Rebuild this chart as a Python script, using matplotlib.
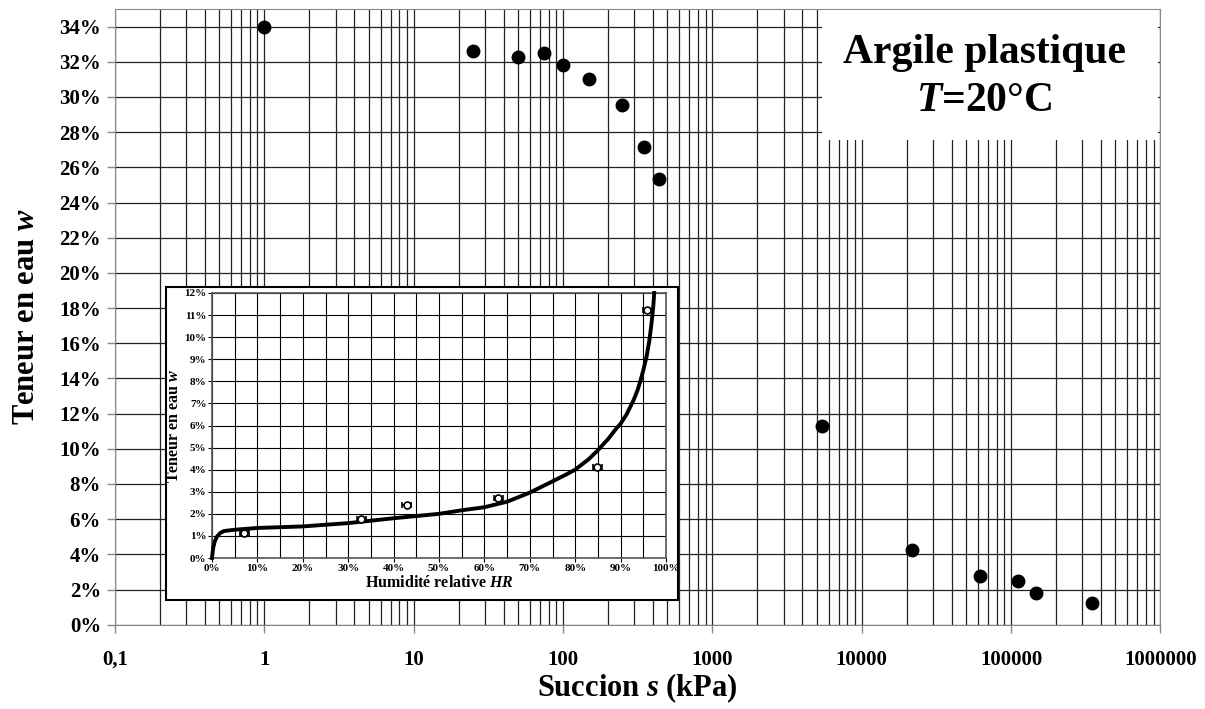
import matplotlib
matplotlib.use("Agg")
import matplotlib.pyplot as plt
from matplotlib.patches import Rectangle
from matplotlib.ticker import FixedLocator, FixedFormatter, NullFormatter

plt.rcParams['font.family'] = ['Liberation Serif', 'DejaVu Serif']
plt.rcParams['font.weight'] = 'bold'
plt.rcParams['mathtext.fontset'] = 'custom'
plt.rcParams['mathtext.it'] = 'Liberation Serif:bold:italic'
plt.rcParams['mathtext.rm'] = 'Liberation Serif:bold'

# main chart: suction (kPa) vs water content
succion_kpa = [1, 25, 50, 75, 100, 150, 250, 350, 440, 5430, 21700, 62000, 111000, 147000, 348000]
teneur_w = [0.340, 0.326, 0.323, 0.325, 0.318, 0.310, 0.2955, 0.2715, 0.2535,
            0.113, 0.0424, 0.0277, 0.0248, 0.018, 0.0123]
x_ticks = [0.1, 1, 10, 100, 1000, 10000, 100000, 1000000]
x_labels = ['0,1', '1', '10', '100', '1000', '10000', '100000', '1000000']

# inset: relative humidity vs water content
hr_mesure = [0.071, 0.329, 0.429, 0.631, 0.849, 0.959]
w_mesure = [0.0115, 0.0175, 0.0242, 0.0272, 0.0412, 0.1125]
hr_err = [0.01, 0.01, 0.01, 0.01, 0.01, 0.01]
hr_courbe = [0.0, 0.001, 0.003, 0.006, 0.011, 0.018, 0.026, 0.05, 0.10, 0.20, 0.30, 0.40,
             0.45, 0.50, 0.55, 0.60, 0.65, 0.70, 0.75, 0.78, 0.80, 0.83, 0.85, 0.873,
             0.89, 0.90, 0.913, 0.928, 0.937, 0.943, 0.950, 0.957, 0.963, 0.968, 0.972,
             0.974]
w_courbe = [0.0, 0.002, 0.005, 0.0075, 0.0097, 0.0113, 0.0122, 0.0128, 0.0136, 0.0143,
            0.0158, 0.018, 0.019, 0.020, 0.0216, 0.023, 0.0255, 0.0296, 0.0347, 0.0378,
            0.040, 0.0448, 0.0488, 0.054, 0.0585, 0.0608, 0.065, 0.0712, 0.0758, 0.0797,
            0.085, 0.091, 0.098, 0.106, 0.114, 0.120]

fig = plt.figure(figsize=(12.05, 7.09), dpi=100)
ax = fig.add_axes([0.0954, 0.1189, 0.8676, 0.8684])
ax.set_xscale('log')
ax.set_xlim(0.1, 1e6)
ax.set_ylim(0, 0.35)

ax.xaxis.set_major_locator(FixedLocator(x_ticks))
ax.xaxis.set_major_formatter(FixedFormatter(x_labels))
ax.xaxis.set_minor_formatter(NullFormatter())
ax.set_yticks([i * 0.02 for i in range(18)])
ax.set_yticklabels(['%d%%' % (i * 2) for i in range(18)])
ax.tick_params(axis='both', which='major', labelsize=15, color='#888888', length=6, width=1)
ax.tick_params(axis='x', which='minor', length=0)
ax.tick_params(axis='x', which='major', pad=12)
ax.tick_params(axis='y', which='major', pad=4)
ax.grid(True, which='both', axis='x', color='#222222', lw=0.9)
ax.grid(True, which='major', axis='y', color='#222222', lw=0.9)
ax.set_axisbelow(True)
for sp in ax.spines.values():
    sp.set_color('#888888')

ax.plot(succion_kpa, teneur_w, 'o', color='black', ms=9, zorder=3)
ax.set_xlabel('Succion $s$ (kPa)', fontsize=22, fontweight='bold', labelpad=1)
ax.set_ylabel('Teneur en eau $w$', fontsize=22, fontweight='bold', labelpad=13)

# title box in the top right corner
ax.add_patch(Rectangle((822 / 1205, 1 - 140 / 709), (1158 - 822) / 1205, (140 - 10) / 709,
                       transform=fig.transFigure, facecolor='white', edgecolor='none', zorder=5))
fig.text(0.817, 0.925, 'Argile plastique', ha='center', va='center', fontsize=30, fontweight='bold', zorder=6)
fig.text(0.817, 0.858, '$T$=20°C', ha='center', va='center', fontsize=30, fontweight='bold', zorder=6)

# inset frame
ax.add_patch(Rectangle((166 / 1205, 1 - 600 / 709), (678 - 166) / 1205, (600 - 287) / 709,
                       transform=fig.transFigure, facecolor='white', edgecolor='black',
                       lw=1.5, zorder=5, clip_on=False))

ins = fig.add_axes([212 / 1205, 1 - 558 / 709, 454 / 1205, 265 / 709])
ins.set_xlim(0, 1)
ins.set_ylim(0, 0.12)
ins.set_xticks([i * 0.1 for i in range(11)])
ins.set_xticklabels(['%d%%' % (i * 10) for i in range(11)])
ins.set_xticks([i * 0.05 for i in range(21)], minor=True)
ins.set_yticks([i * 0.01 for i in range(13)])
ins.set_yticklabels(['%d%%' % i for i in range(13)])
ins.tick_params(axis='both', which='major', labelsize=8, length=3, pad=1)
ins.tick_params(axis='x', which='minor', length=0)
ins.grid(True, which='both', axis='x', color='black', lw=0.8)
ins.grid(True, which='major', axis='y', color='black', lw=0.8)
for sp in ins.spines.values():
    sp.set_color('#555555')
    sp.set_linewidth(1.2)

ins.plot(hr_courbe, w_courbe, color='black', lw=2.8, zorder=3, clip_on=False)
ins.errorbar(hr_mesure, w_mesure, xerr=hr_err, fmt='o', mfc='white', mec='black', ms=5,
             mew=1.2, ecolor='black', elinewidth=1.2, capsize=2, zorder=4)
ins.set_xlabel('Humidité relative $HR$', fontsize=11.5, fontweight='bold', labelpad=2)
ins.set_ylabel('Teneur en eau $w$', fontsize=11.5, fontweight='bold', labelpad=2)

fig.savefig('out.png', dpi=100)
